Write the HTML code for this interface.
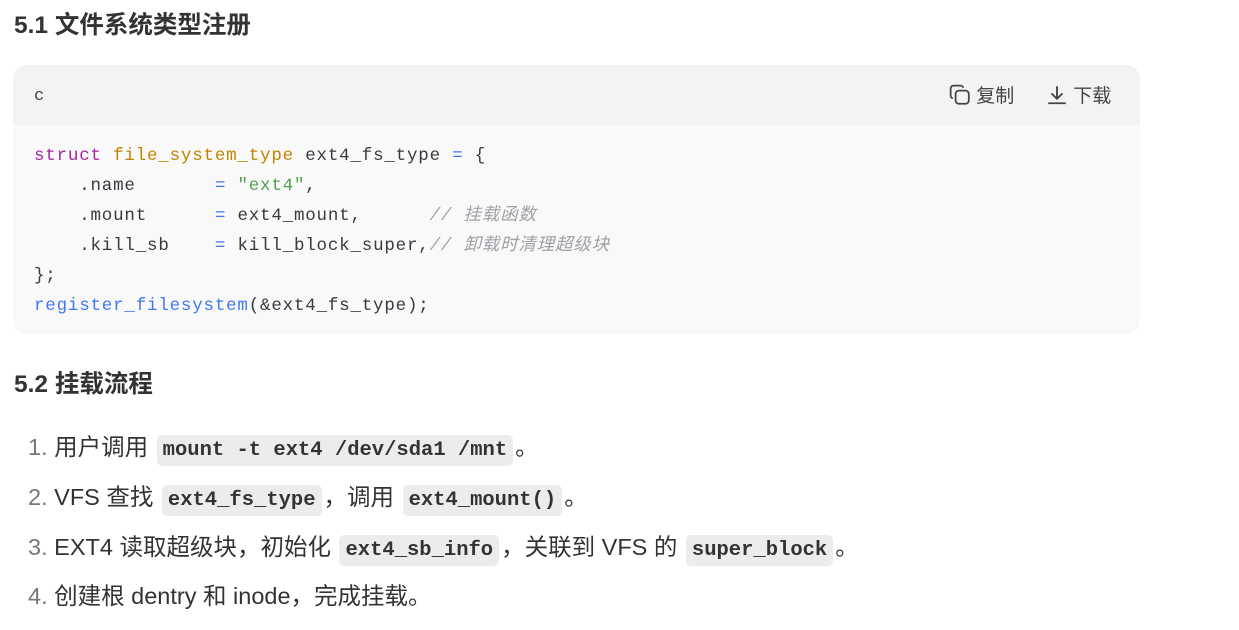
<!DOCTYPE html>
<html><head><meta charset="utf-8"><style>
body{margin:0;width:1239px;height:630px;background:#fff;font-family:"Liberation Sans","Noto Sans CJK SC",sans-serif;color:#333;position:relative;overflow:hidden}
.h{position:absolute;left:14px;font-weight:bold;font-size:24.5px;color:#333;line-height:28px}
.blk{position:absolute;left:13px;top:65px;width:1127px;height:269px;border-radius:14px;background:#f9f9f9;overflow:hidden}
.hd{position:absolute;left:0;top:0;right:0;height:60px;background:#f3f3f3}
.lang{position:absolute;left:21px;top:22px;font-family:"Liberation Mono",monospace;font-size:17px;color:#444}
.act{position:absolute;top:19px;font-size:19px;color:#444;line-height:24px}
pre{position:absolute;left:21px;top:76px;margin:0;font-family:"Liberation Mono","Noto Sans CJK SC",monospace;font-size:17.5px;letter-spacing:0.8px;line-height:30px;color:#383a42}
.k{color:#a626a4}.t{color:#c18401}.o{color:#4078f2}.s{color:#50a14f}.c{color:#a0a1a7;font-style:italic}.f{color:#4078f2}
.li{position:absolute;left:28px;font-size:23.5px;line-height:30px;color:#333;white-space:nowrap}
.li .n{color:#777}
code{font-family:"Liberation Mono",monospace;font-weight:bold;font-size:20.5px;background:#ececec;border-radius:5px;padding:4px 6px;margin:0 2px;color:#333}
</style></head><body>
<div class="h" style="top:12px">5.1 文件系统类型注册</div>
<div class="blk">
<div class="hd"></div>
<div class="lang">c</div>
<div class="act" style="left:936px"><svg width="22" height="22" viewBox="0 0 20 20" style="vertical-align:-4px" fill="none" stroke="#444" stroke-width="1.6"><rect x="6" y="6" width="12" height="12" rx="3"/><path d="M13 3.5A2.5 2.5 0 0 0 10.5 1.5H4A2.5 2.5 0 0 0 1.5 4V10.5A2.5 2.5 0 0 0 3.5 13"/></svg> 复制</div>
<div class="act" style="left:1033px"><svg width="22" height="22" viewBox="0 0 20 20" style="vertical-align:-4px" fill="none" stroke="#444" stroke-width="1.7"><path d="M10 2V13M5 8.5L10 13.5L15 8.5M2 17.5H18"/></svg> 下载</div>
<pre><span class="k">struct</span> <span class="t">file_system_type</span> ext4_fs_type <span class="o">=</span> {
    .name       <span class="o">=</span> <span class="s">"ext4"</span>,
    .mount      <span class="o">=</span> ext4_mount,      <span class="c">// 挂载函数</span>
    .kill_sb    <span class="o">=</span> kill_block_super,<span class="c">// 卸载时清理超级块</span>
};
<span class="f">register_filesystem</span>(&amp;ext4_fs_type);</pre>
</div>
<div class="h" style="top:371px">5.2 挂载流程</div>
<div class="li" style="top:432px"><span class="n">1.</span> 用户调用 <code>mount -t ext4 /dev/sda1 /mnt</code>。</div>
<div class="li" style="top:482px"><span class="n">2.</span> VFS 查找 <code>ext4_fs_type</code>，调用 <code>ext4_mount()</code>。</div>
<div class="li" style="top:532px"><span class="n">3.</span> EXT4 读取超级块，初始化 <code>ext4_sb_info</code>，关联到 VFS 的 <code>super_block</code>。</div>
<div class="li" style="top:581px"><span class="n">4.</span> 创建根 dentry 和 inode，完成挂载。</div>
</body></html>
